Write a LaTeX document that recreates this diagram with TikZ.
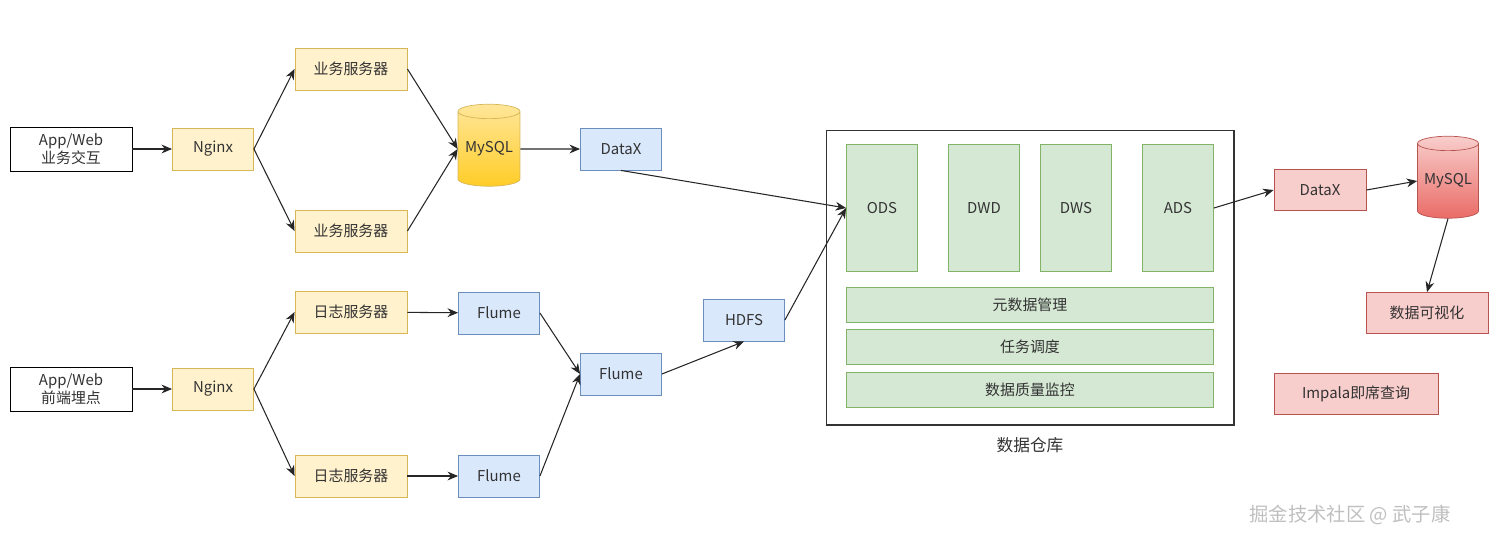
\documentclass[tikz,border=0pt]{standalone}
\usepackage{fontspec}
\setmainfont{Noto Sans CJK SC}
\usetikzlibrary{shapes.geometric,arrows.meta}
\definecolor{yf}{HTML}{FFF2CC}\definecolor{yd}{HTML}{D6B656}
\definecolor{bf}{HTML}{DAE8FC}\definecolor{bd}{HTML}{6C8EBF}
\definecolor{gf}{HTML}{D5E8D4}\definecolor{gd}{HTML}{82B366}
\definecolor{rf}{HTML}{F8CECC}\definecolor{rd}{HTML}{B85450}
\begin{document}
\begin{tikzpicture}[x=0.02cm,y=-0.02cm,
  every node/.style={font=\fontsize{8.5}{10.5}\selectfont,text=black!80,align=center,inner sep=0pt},
  box/.style={draw,line width=0.5pt,minimum width=1.62cm,minimum height=0.84cm},
  Y/.style={box,fill=yf,draw=yd},B/.style={box,fill=bf,draw=bd},
  G/.style={box,fill=gf,draw=gd},R/.style={box,fill=rf,draw=rd},
  W/.style={box,fill=white,draw=black,minimum width=2.44cm,minimum height=0.88cm},
  cyl/.style={cylinder,shape border rotate=90,aspect=0.3,draw,minimum width=1.24cm,minimum height=1.64cm},
  arr/.style={-{Stealth[length=6pt,width=5pt]},line width=0.6pt,black!85}]
\useasboundingbox (0,0) rectangle (1500,545);
\node[W] (aw1) at (71,149) {App/Web\\业务交互};
\node[W] (aw2) at (71,389) {App/Web\\前端埋点};
\node[Y] (ng1) at (213,149) {Nginx};
\node[Y] (ng2) at (213,389) {Nginx};
\node[Y,minimum width=2.24cm] (s1) at (351,69) {业务服务器};
\node[Y,minimum width=2.24cm] (s2) at (351,231) {业务服务器};
\node[Y,minimum width=2.24cm] (l1) at (351,312) {日志服务器};
\node[Y,minimum width=2.24cm] (l2) at (351,476) {日志服务器};
\node[cyl,draw=yd,top color=yf!60!yellow!80!orange,bottom color=yellow!60!orange!90,shading angle=0,
  top color={rgb,255:red,255;green,230;blue,153},bottom color={rgb,255:red,255;green,205;blue,40}] (my1) at (489,149) {MySQL};
\node[B] (dx1) at (621,149) {DataX};
\node[B] (f1) at (499,313) {Flume};
\node[B] (f2) at (499,476) {Flume};
\node[B] (f3) at (621,374) {Flume};
\node[B] (hd) at (744,320) {HDFS};
\node[draw=black!80,line width=0.6pt,minimum width=8.16cm,minimum height=5.9cm] (dw) at (1030,277.5) {};
\node[font=\fontsize{9.5}{11}\selectfont] (dwl) at (1030,445) {数据仓库};
\node[G,minimum width=1.42cm,minimum height=2.54cm] (ods) at (882,208) {ODS};
\node[G,minimum width=1.42cm,minimum height=2.54cm] (dwd) at (984,208) {DWD};
\node[G,minimum width=1.42cm,minimum height=2.54cm] (dws) at (1076,208) {DWS};
\node[G,minimum width=1.42cm,minimum height=2.54cm] (ads) at (1178,208) {ADS};
\node[G,minimum width=7.34cm,minimum height=0.7cm] (m1) at (1030,305) {元数据管理};
\node[G,minimum width=7.34cm,minimum height=0.7cm] (m2) at (1030,347) {任务调度};
\node[G,minimum width=7.34cm,minimum height=0.7cm] (m3) at (1030,390) {数据质量监控};
\node[R,minimum width=1.84cm,minimum height=0.82cm] (dx2) at (1320,190) {DataX};
\node[cyl,draw=rd,top color={rgb,255:red,248;green,206;blue,204},bottom color={rgb,255:red,234;green,107;blue,102},minimum width=1.22cm] (my2) at (1448,181) {MySQL};
\node[R,minimum width=2.44cm,minimum height=0.82cm] (vis) at (1427,313) {数据可视化};
\node[R,minimum width=3.28cm,minimum height=0.82cm] (imp) at (1356,394) {Impala即席查询};
\node[font=\fontsize{11}{13}\selectfont,text=black!25] (wm) at (1350,515) {掘金技术社区 @ 武子康};
\draw[arr] (aw1) -- (ng1);
\draw[arr] (aw2) -- (ng2);
\draw[arr] (ng1.east) -- (s1.west);
\draw[arr] (ng1.east) -- (s2.west);
\draw[arr] (ng2.east) -- (l1.west);
\draw[arr] (ng2.east) -- (l2.west);
\draw[arr] (s1.east) -- (my1.west);
\draw[arr] (s2.east) -- (my1.west);
\draw[arr] (my1) -- (dx1);
\draw[arr] (dx1.south) -- (ods.west);
\draw[arr] (l1) -- (f1);
\draw[arr] (l2) -- (f2);
\draw[arr] (f1.east) -- (f3.west);
\draw[arr] (f2.east) -- (f3.west);
\draw[arr] (f3.east) -- (hd.south);
\draw[arr] (hd.east) -- (ods.west);
\draw[arr] (ads.east) -- (dx2.west);
\draw[arr] (dx2.east) -- (my2.west);
\draw[arr] (my2.south) -- (vis.north);
\end{tikzpicture}
\end{document}
